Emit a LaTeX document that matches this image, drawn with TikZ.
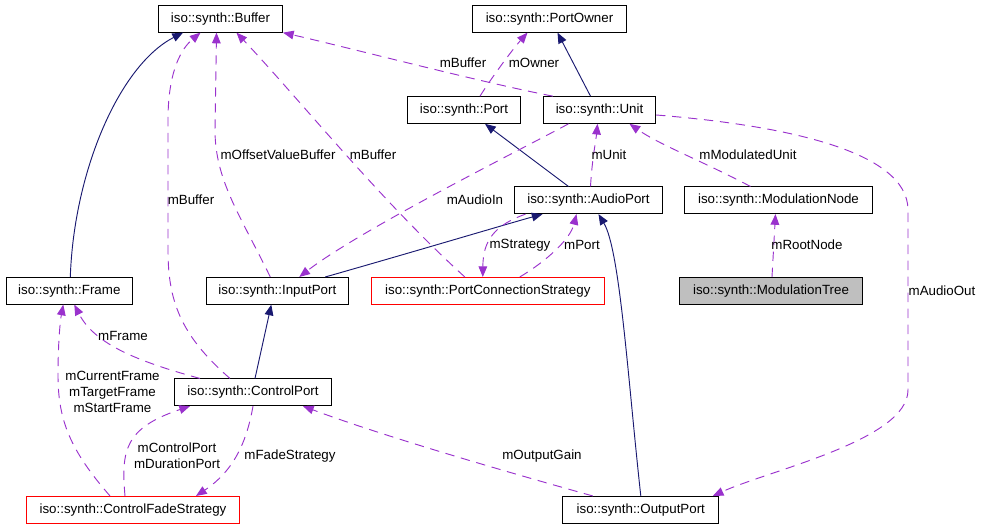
\documentclass[tikz,border=0pt]{standalone}
\usepackage{fontspec}
\setmainfont{Liberation Sans}
\usepackage{tikz}
\usetikzlibrary{calc, arrows.meta}
\definecolor{inherit}{RGB}{25, 25, 112}
\definecolor{usage}{RGB}{154, 50, 205}
\definecolor{boxgray}{RGB}{191, 191, 191}

\begin{document}
\begin{tikzpicture}[x=0.75pt, y=-0.75pt, font=\fontsize{10}{12}\selectfont,
  cls/.style={draw, line width=0.75pt, minimum height=20pt, inner sep=0pt},
  tmpl/.style={cls, draw=red},
  isa/.style={-{Triangle[length=8pt, width=6.5pt]}, inherit, line width=0.7pt},
  uses/.style={-{Triangle[length=8pt, width=6.5pt]}, usage, line width=0.7pt, dash pattern=on 7pt off 5pt},
  lbl/.style={inner sep=0pt, align=center}]
  \useasboundingbox (0, 0) rectangle (983, 528);

  % top row
  \node[cls, minimum width=93pt] (buffer) at (220.5, 18.8) {iso::synth::Buffer};
  \node[cls, minimum width=115.8pt] (portowner) at (549.5, 18.8) {iso::synth::PortOwner};

  % second row
  \node[cls, minimum width=85pt] (port) at (464, 110) {iso::synth::Port};
  \node[cls, minimum width=84.3pt] (unit) at (599.5, 110) {iso::synth::Unit};

  % third row
  \node[cls, minimum width=111.3pt] (audioport) at (588.5, 200.3) {iso::synth::AudioPort};
  \node[cls, minimum width=141.3pt] (modnode) at (778.5, 200.3) {iso::synth::ModulationNode};

  % fourth row
  \node[cls, minimum width=94.5pt] (frame) at (69.3, 290.8) {iso::synth::Frame};
  \node[cls, minimum width=106.5pt] (inputport) at (277.3, 290.8) {iso::synth::InputPort};
  \node[tmpl, minimum width=174.75pt] (pcs) at (487.8, 290.8) {iso::synth::PortConnectionStrategy};
  \node[cls, fill=boxgray, minimum width=137.5pt] (modtree) at (771, 290.8) {iso::synth::ModulationTree};

  % lower rows
  \node[cls, minimum width=118pt] (controlport) at (253, 392.3) {iso::synth::ControlPort};
  \node[tmpl, minimum width=160pt] (cfs) at (133, 509.8) {iso::synth::ControlFadeStrategy};
  \node[cls, minimum width=116.8pt] (outputport) at (640.8, 509.8) {iso::synth::OutputPort};

  % inheritance
  \draw[isa] ($(frame.north)+(1,0)$) .. controls (74, 170) and (120, 65) .. ($(buffer.south)+(-37.5,0)$);
  \draw[isa] ($(unit.north)+(-9,0)$) -- ($(portowner.south)+(8,0)$);
  \draw[isa] ($(audioport.north)+(-20,0)$) -- ($(port.south)+(21,0)$);
  \draw[isa] ($(inputport.north)+(48,0)$) .. controls (420, 250) and (500, 226) .. ($(audioport.south)+(-46,0)$);
  \draw[isa] (outputport.north) .. controls (628, 380) and (620, 250) .. ($(audioport.south)+(10,0)$);
  \draw[isa] ($(controlport.north)+(2,0)$) -- ($(inputport.south)+(-6,0)$);

  % members
  \draw[uses] ($(controlport.north)+(-23,0)$) .. controls (180, 335) and (168, 300) .. (168, 250)
    -- (168, 120) .. controls (168, 70) and (182, 48) .. ($(buffer.south)+(-20,0)$);
  \node[lbl] (l-buf1) at (191, 200) {mBuffer};
  \draw[uses] ($(inputport.north)+(-7,0)$) .. controls (240, 215) and (215, 180) .. (215, 130)
    -- ($(buffer.south)+(-4,0)$);
  \node[lbl] (l-offset) at (278, 155) {mOffsetValueBuffer};
  \draw[uses] ($(pcs.north)+(-23,0)$) .. controls (380, 200) and (300, 100) .. ($(buffer.south)+(16,0)$);
  \node[lbl] (l-buf2) at (373, 155) {mBuffer};
  \draw[uses] ($(unit.north west)+(10,0)$) .. controls (480, 82) and (350, 48) .. (buffer.south east);
  \node[lbl] (l-buf3) at (463, 63) {mBuffer};
  \draw[uses] ($(port.north)+(16,0)$) .. controls (490, 80) and (512, 50) .. ($(portowner.south)+(-22,0)$);
  \node[lbl] (l-owner) at (534, 63) {mOwner};
  \draw[uses] ($(audioport.north)+(2,0)$) .. controls (592, 160) and (596, 140) .. ($(unit.south)+(-2,0)$);
  \node[lbl] (l-unit) at (609, 155) {mUnit};
  \draw[uses] ($(modnode.north)+(-28,0)$) .. controls (700, 160) and (660, 145) .. ($(unit.south)+(30,0)$);
  \node[lbl] (l-modunit) at (748, 155) {mModulatedUnit};
  \draw[uses] ($(unit.south)+(-31,0)$) .. controls (520, 150) and (360, 230) .. ($(inputport.north)+(22,0)$);
  \node[lbl] (l-audioin) at (475, 200) {mAudioIn};
  \draw[uses] ($(audioport.south)+(-63,0)$) .. controls (495, 225) and (483, 240) .. ($(pcs.north)+(-5,0)$);
  \node[lbl] (l-strategy) at (520, 245) {mStrategy};
  \draw[uses] ($(pcs.north)+(32,0)$) .. controls (545, 262) and (570, 240) .. ($(audioport.south)+(-12,0)$);
  \node[lbl] (l-port) at (582, 245) {mPort};
  \draw[uses] ($(modtree.north)+(1,0)$) -- ($(modnode.south)+(-3,0)$);
  \node[lbl] (l-root) at (807, 245) {mRootNode};
  \draw[uses] ($(unit.east)+(0,5)$) .. controls (780, 125) and (908, 150) .. (908, 210)
    -- (908, 390) .. controls (908, 440) and (770, 470) .. ($(outputport.north)+(72,0)$);
  \node[lbl] (l-audioout) at (942, 291) {mAudioOut};
  \draw[uses] ($(controlport.north)+(-53,0)$) .. controls (140, 362) and (95, 345) .. ($(frame.south)+(5,0)$);
  \node[lbl] (l-frame) at (123, 336) {mFrame};
  \draw[uses] ($(cfs.north)+(-23,0)$) .. controls (70, 450) and (58, 420) .. (58, 375)
    .. controls (58, 345) and (60, 322) .. ($(frame.south)+(-6,0)$);
  \node[lbl] (l-frames) at (112.5, 392) {mCurrentFrame\\mTargetFrame\\mStartFrame};
  \draw[uses] ($(cfs.north)+(-8,0)$) .. controls (121, 450) and (125, 428) .. ($(controlport.south)+(-63,0)$);
  \node[lbl] (l-ctrl) at (177, 456) {mControlPort\\mDurationPort};
  \draw[uses] (controlport.south) .. controls (247, 440) and (235, 470) .. ($(cfs.north)+(63,0)$);
  \node[lbl] (l-fade) at (290, 456) {mFadeStrategy};
  \draw[uses] ($(outputport.north)+(-48,0)$) .. controls (500, 470) and (380, 435) .. ($(controlport.south)+(50,0)$);
  \node[lbl] (l-gain) at (542, 456) {mOutputGain};
\end{tikzpicture}
\end{document}
